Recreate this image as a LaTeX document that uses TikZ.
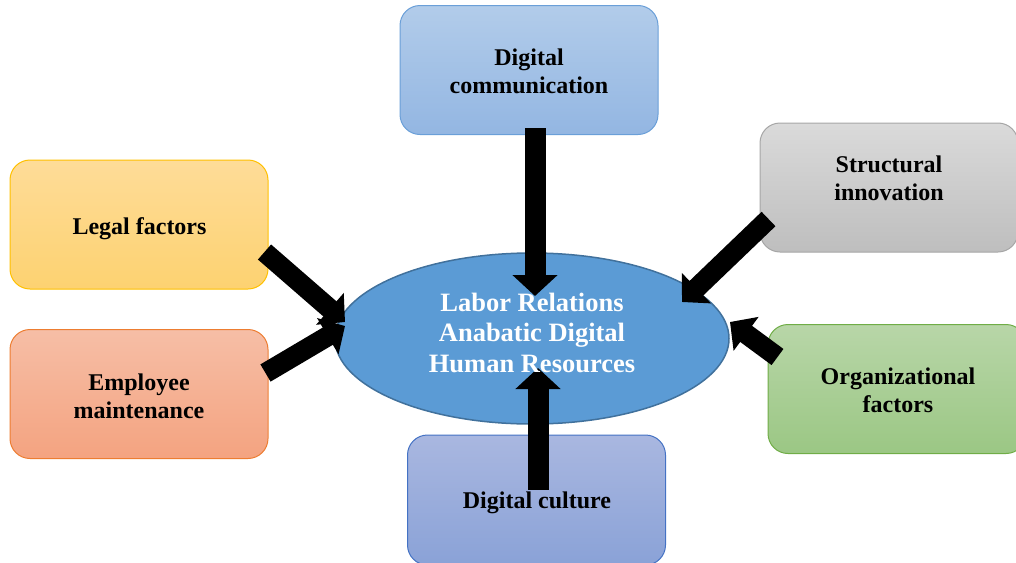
\documentclass[tikz,border=0pt]{standalone}
\usepackage{fontspec}
\setmainfont{Liberation Serif}
\usetikzlibrary{arrows.meta,shapes.geometric}
\definecolor{dcT}{HTML}{B2CCEA}\definecolor{dcB}{HTML}{93B6E2}\definecolor{dcD}{HTML}{6A9FD8}
\definecolor{siT}{HTML}{DADADA}\definecolor{siB}{HTML}{BEBEBE}\definecolor{siD}{HTML}{A6A6A6}
\definecolor{lfT}{HTML}{FEDC98}\definecolor{lfB}{HTML}{FDD271}\definecolor{lfD}{HTML}{FFC000}
\definecolor{emT}{HTML}{F6BEA6}\definecolor{emB}{HTML}{F4A380}\definecolor{emD}{HTML}{ED7D31}
\definecolor{ofT}{HTML}{B8D6A8}\definecolor{ofB}{HTML}{9BC784}\definecolor{ofD}{HTML}{70AD47}
\definecolor{cuT}{HTML}{A9B7E0}\definecolor{cuB}{HTML}{8AA2D7}\definecolor{cuD}{HTML}{4472C4}
\definecolor{elF}{HTML}{5B9BD5}\definecolor{elD}{HTML}{41719C}
\tikzset{
 box/.style={draw, line width=1pt, rounded corners=20pt, minimum width=258pt, minimum height=129pt, inner sep=0pt},
 lbl/.style={font=\bfseries\fontsize{24}{28}\selectfont, align=center, text=black, inner sep=0pt},
 bigarrow/.style={line width=21pt, -{Triangle[width=44pt,length=21pt]}, draw=black},
 diagarrow/.style={line width=20pt, -{Triangle[width=41pt,length=20pt]}, draw=black},
}
\begin{document}
\begin{tikzpicture}[x=1pt,y=-1pt]
\useasboundingbox (0,0) rectangle (1016,562);
% boxes
\node[box, draw=dcD, top color=dcT, bottom color=dcB] (dc) at (529,70) {};
\node[box, draw=siD, top color=siT, bottom color=siB] (si) at (889,187.5) {};
\node[box, draw=lfD, top color=lfT, bottom color=lfB] (lf) at (139,224.5) {};
\node[box, draw=emD, top color=emT, bottom color=emB] (em) at (139,394) {};
\node[box, draw=ofD, top color=ofT, bottom color=ofB] (of) at (897,389) {};
\node[box, draw=cuD, top color=cuT, bottom color=cuB, minimum height=130pt] (cu) at (536.5,500) {};
% central ellipse
\node[ellipse, draw=elD, fill=elF, line width=1.5pt, minimum width=394pt, minimum height=171pt, inner sep=0pt] (hr) at (532,338.5) {};
% arrow tips
\coordinate (tA) at (535,296);
\coordinate (tB) at (538,368);
\coordinate (tC) at (345,322);
\coordinate (tD) at (345,326);
\coordinate (tE) at (682,302);
\coordinate (tF) at (730,322);
% arrows
\draw[bigarrow] ([xshift=6pt,yshift=7pt]dc.south) -- (tA);
\draw[bigarrow] ([xshift=1.5pt,yshift=-55pt]cu.north) -- (tB);
\draw[diagarrow] ([xshift=-4pt,yshift=-27.5pt]lf.east) -- (tC);
\draw[diagarrow] ([xshift=-3pt,yshift=21pt]em.east) -- (tD);
\draw[diagarrow] ([xshift=9pt,yshift=-31.5pt]si.west) -- (tE);
\draw[diagarrow] ([xshift=10pt,yshift=32pt]of.west) -- (tF);
% texts
\node[lbl] (dc-t) at (529,71) {Digital\\communication};
\node[lbl] (si-t) at (889,178.5) {Structural\\innovation};
\node[lbl] (lf-t) at (139.5,229) {Legal factors};
\node[lbl] (em-t) at (139,396) {Employee\\maintenance};
\node[lbl] (of-t) at (898,390.5) {Organizational\\factors};
\node[lbl] (cu-t) at (537,502.5) {Digital culture};
\node[font=\bfseries\fontsize{26.5}{30.5}\selectfont, text=white, align=center, inner sep=0pt] (hr-t) at (532,332.5) {Labor Relations\\Anabatic Digital\\Human Resources};
\end{tikzpicture}
\end{document}
